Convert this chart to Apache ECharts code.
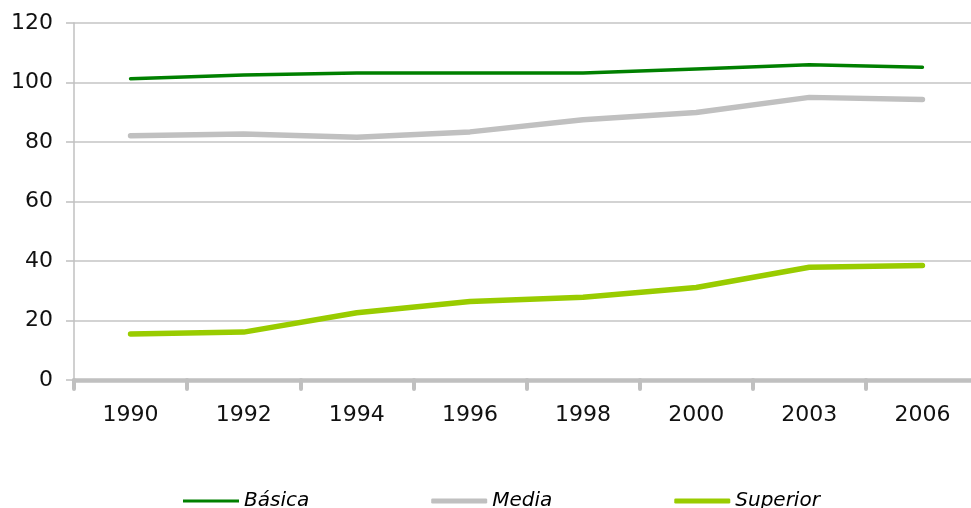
<!DOCTYPE html>
<html>
<head>
<meta charset="utf-8">
<script src="https://cdn.jsdelivr.net/npm/echarts@6/dist/echarts.min.js"></script>
<style>html,body{margin:0;padding:0;background:#fff;overflow:hidden}#c{width:971px;height:508px}</style>
</head>
<body>
<div id="c"></div>
<script>
var years = ['1990','1992','1994','1996','1998','2000','2003','2006'];
var basica = [101.3, 102.5, 103.2, 103.2, 103.2, 104.5, 106.0, 105.1];
var media = [82.1, 82.7, 81.6, 83.4, 87.5, 89.9, 95.0, 94.3];
var superior = [15.5, 16.1, 22.6, 26.4, 27.8, 31.1, 37.9, 38.5];
var yTicks = [0, 20, 40, 60, 80, 100, 120];
var seriesNames = ['Básica', 'Media', 'Superior'];

var chart = echarts.init(document.getElementById('c'), null, {renderer: 'canvas'});
chart.setOption({
  animation: false,
  backgroundColor: '#ffffff',
  grid: {left: 74, width: 905, top: 23, height: 357, containLabel: false, outerBoundsMode: 'none'},
  legend: {
    left: 178, top: 486,
    itemWidth: 56, itemHeight: 5, itemGap: 122,
    symbolKeepAspect: true,
    textStyle: {fontFamily: 'DejaVu Sans', fontStyle: 'italic', fontSize: 20, color: '#000'},
    data: [
      {name: seriesNames[0], icon: 'path://M0,0H56V3H0Z'},
      {name: seriesNames[1], icon: 'roundRect'},
      {name: seriesNames[2], icon: 'roundRect'}
    ]
  },
  xAxis: {
    type: 'category', data: years, boundaryGap: true,
    axisLine: {lineStyle: {color: '#c0c0c0', width: 4.5, cap: 'round'}},
    axisTick: {show: true, length: 9, lineStyle: {color: '#c0c0c0', width: 4, cap: 'round'}},
    axisLabel: {margin: 24, fontFamily: 'DejaVu Sans', fontSize: 22, color: '#111'},
    splitLine: {show: false}
  },
  yAxis: {
    type: 'value', min: yTicks[0], max: yTicks[yTicks.length-1], interval: 20,
    axisLine: {show: true, lineStyle: {color: '#c0c0c0', width: 1.5}},
    axisTick: {show: true, length: 8, lineStyle: {color: '#c0c0c0', width: 1.5}},
    axisLabel: {margin: 21, fontFamily: 'DejaVu Sans', fontSize: 22, color: '#111'},
    splitLine: {show: true, lineStyle: {color: '#c4c4c4', width: 1.5}}
  },
  series: [
    {name: seriesNames[0], type: 'line', data: basica, symbol: 'none', z: 5,
     lineStyle: {color: '#008000', width: 3.5, cap: 'round', join: 'round'}, itemStyle: {color: '#008000'}},
    {name: seriesNames[1], type: 'line', data: media, symbol: 'none', z: 4,
     lineStyle: {color: '#c0c0c0', width: 5.5, cap: 'round', join: 'round'}, itemStyle: {color: '#c0c0c0'}},
    {name: seriesNames[2], type: 'line', data: superior, symbol: 'none', z: 3,
     lineStyle: {color: '#99cc00', width: 5.5, cap: 'round', join: 'round'}, itemStyle: {color: '#99cc00'}}
  ]
});
</script>
</body>
</html>
